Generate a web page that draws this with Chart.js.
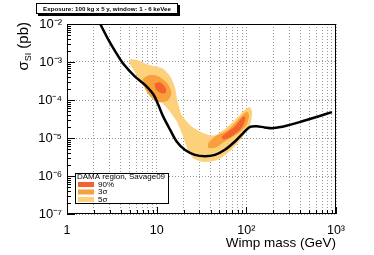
<!DOCTYPE html>
<html>
<head>
<meta charset="utf-8">
<script src="https://cdn.jsdelivr.net/npm/chart.js@4.4.0/dist/chart.umd.min.js"></script>
<style>
  body { margin: 0; background: #fff; }
  #wrap { width: 374px; height: 255px; }
</style>
</head>
<body>
<div id="wrap"><canvas id="chartDama"></canvas></div>
<script>
// limit curve, 100 kg x 5 y
var limitMass = [2.35, 2.9, 3.5, 4.2, 5.7, 7.4, 9.2, 10.4, 11.8, 14.1, 16.7, 20.6, 26.7, 34.5, 44.7, 57.6, 74.6, 92.3, 110, 130, 160, 200, 280, 430, 660, 900]
var limitSigma = [1.0e-2, 3.8e-3, 1.8e-3, 9.3e-4, 4.2e-4, 2.5e-4, 1.4e-4, 7.6e-5, 3.7e-5, 1.66e-5, 8.1e-6, 4.9e-6, 3.6e-6, 3.3e-6, 3.6e-6, 4.9e-6, 8.1e-6, 1.35e-5, 1.95e-5, 2.04e-5, 1.9e-5, 1.82e-5, 2.1e-5, 2.8e-5, 3.8e-5, 4.8e-5]

// DAMA contours (Savage09), outlines
var dama5Mass = [5.2, 6.5, 8.1, 11.4, 14.1, 16, 17.1, 19, 24.5, 34.5, 44.7, 62.8, 84.9, 107, 116, 110, 88.7, 68.5, 48.6, 34.5, 25.6, 21.6, 19, 16.7, 13.5, 11.4, 9.2, 7.2, 6.1, 5.2, 4.9, 5.2]
var dama5Sigma = [1.2e-3, 1.07e-3, 8.5e-4, 6.9e-4, 4.2e-4, 2.1e-4, 9.3e-5, 4.1e-5, 2.04e-5, 1.29e-5, 1.17e-5, 2.04e-5, 4.1e-5, 6.5e-5, 5.0e-5, 2.24e-5, 1.0e-5, 4.9e-6, 2.7e-6, 2.34e-6, 2.95e-6, 6.0e-6, 1.35e-5, 2.75e-5, 5.6e-5, 8.5e-5, 1.3e-4, 2.3e-4, 4.2e-4, 7.8e-4, 1.05e-3, 1.2e-3]

var dama3LowMass = [7.0, 8.2, 10.4, 13.2, 14.6, 13.2, 10.4, 8.6, 7.4, 7.0]
var dama3LowSigma = [3.6e-4, 4.5e-4, 4.2e-4, 2.7e-4, 1.5e-4, 9.5e-5, 8.8e-5, 1.2e-4, 2.0e-4, 3.6e-4]
var dama3HighMass = [37.6, 44.7, 62.8, 84.9, 101, 107, 101, 81.5, 57.6, 44.7, 37.6, 37.6]
var dama3HighSigma = [7.4e-6, 1.1e-5, 1.66e-5, 3.4e-5, 5.0e-5, 4.1e-5, 2.24e-5, 1.35e-5, 8.1e-6, 5.5e-6, 5.5e-6, 7.4e-6]

var dama90LowMass = [9.5, 10.9, 12.6, 12.6, 11.3, 9.8, 9.5]
var dama90LowSigma = [2.7e-4, 2.9e-4, 2.1e-4, 1.55e-4, 1.5e-4, 1.9e-4, 2.7e-4]
var dama90HighMass = [53, 74.6, 92.3, 98, 88.7, 68.5, 55, 53]
var dama90HighSigma = [1.1e-5, 2.04e-5, 3.7e-5, 3.4e-5, 1.82e-5, 1.1e-5, 9.1e-6, 1.1e-5]

// axes
var xTickValues = [1, 10, 100, 1000]
var xTickLabels = ['1', '10', '10\u00b2', '10\u00b3']
var yTickValues = [1e-7, 1e-6, 1e-5, 1e-4, 1e-3, 1e-2]
var yTickLabels = ['10\u207b\u2077', '10\u207b\u2076', '10\u207b\u2075', '10\u207b\u2074', '10\u207b\u00b3', '10\u207b\u00b2']

var legendHeader = 'DAMA region, Savage09'
var exposureText = 'Exposure: 100 kg x 5 y, window: 1 - 6 keVee'

var col90 = '#f4632d'
var col3 = '#f8a03c'
var col5 = '#fdd07c'

function pts(mx, sy) {
  return mx.map(function (m, i) { return { x: m, y: sy[i] } })
}

function region(label, mx, sy, color) {
  return {
    label: label,
    data: pts(mx, sy),
    showLine: true,
    fill: 'shape',
    backgroundColor: color,
    borderColor: 'transparent',
    borderWidth: 0,
    pointRadius: 0,
    tension: 0.25,
  }
}

// minor positions for grid / ticks
var xGrid = []
;[1, 10, 100].forEach(function (d) {
  for (var k = 1; k < 10; k++) xGrid.push(k * d)
})
xGrid.push(1000)

function labelFor(values, labels, v) {
  for (var i = 0; i < values.length; i++) {
    if (Math.abs(Math.log10(v) - Math.log10(values[i])) < 1e-6) return labels[i]
  }
  return ''
}

var extras = {
  id: 'extras',
  afterDraw: function (chart) {
    var ctx = chart.ctx
    var a = chart.chartArea
    var sx = chart.scales.x
    var sy = chart.scales.y
    ctx.save()
    ctx.strokeStyle = '#000'
    ctx.lineWidth = 1

    // inner ticks
    ctx.beginPath()
    xGrid.forEach(function (v) {
      var px = Math.round(sx.getPixelForValue(v)) + 0.5
      var len = xTickValues.indexOf(v) >= 0 ? 7 : 4
      ctx.moveTo(px, a.bottom)
      ctx.lineTo(px, a.bottom - len)
    })
    for (var e = -7; e < -2; e++) {
      for (var k = 1; k < 10; k++) {
        var py = Math.round(sy.getPixelForValue(k * Math.pow(10, e))) + 0.5
        ctx.moveTo(a.left, py)
        ctx.lineTo(a.left + (k == 1 ? 8 : 4), py)
      }
    }
    ctx.stroke()

    // frame
    ctx.strokeRect(a.left + 0.5, a.top + 0.5, a.right - a.left - 1, a.bottom - a.top - 1)

    // legend
    var lx = 75, ly = 173, lw = 93, lh = 30
    ctx.fillStyle = '#fff'
    ctx.fillRect(lx, ly, lw, lh)
    ctx.strokeRect(lx + 0.5, ly + 0.5, lw, lh)
    ctx.fillStyle = '#000'
    ctx.font = '8px "Liberation Sans", Arial, sans-serif'
    ctx.textBaseline = 'middle'
    ctx.textAlign = 'left'
    ctx.fillText(legendHeader, 77, 177)
    var items = [chart.data.datasets[1], chart.data.datasets[3], chart.data.datasets[5]]
    items.forEach(function (ds, i) {
      var cy = 184.5 + i * 7.5
      ctx.fillStyle = ds.backgroundColor
      ctx.fillRect(78, cy - 2.5, 16, 5)
      ctx.fillStyle = '#000'
      ctx.fillText(ds.label, 98, cy)
    })

    // exposure box
    ctx.fillStyle = '#000'
    ctx.fillRect(38, 5, 142, 11)
    ctx.fillStyle = '#fff'
    ctx.fillRect(36, 3, 142, 11)
    ctx.strokeRect(36.5, 3.5, 141, 10)
    ctx.fillStyle = '#000'
    ctx.font = 'bold 10px "Liberation Sans", Arial, sans-serif'
    var fs = 10 * 128 / ctx.measureText(exposureText).width
    ctx.font = 'bold ' + fs.toFixed(2) + 'px "Liberation Sans", Arial, sans-serif'
    ctx.textAlign = 'center'
    ctx.fillText(exposureText, 107, 9)

    // y title: sigma_SI (pb)
    ctx.translate(28, 22)
    ctx.rotate(-Math.PI / 2)
    ctx.textAlign = 'left'
    ctx.textBaseline = 'alphabetic'
    var big = '15px "Liberation Sans", Arial, sans-serif'
    var small = '9px "Liberation Sans", Arial, sans-serif'
    ctx.font = big
    var w1 = ctx.measureText('\u03c3').width
    var w3 = ctx.measureText(' (pb)').width
    ctx.font = small
    var w2 = ctx.measureText('SI').width
    var x0 = -(w1 + w2 + w3)
    ctx.font = big
    ctx.fillText('\u03c3', x0, 0)
    ctx.font = small
    ctx.fillText('SI', x0 + w1, 3)
    ctx.font = big
    ctx.fillText(' (pb)', x0 + w1 + w2, 0)
    ctx.restore()
  },
}

var ctxDama = document.getElementById('chartDama').getContext('2d')

var chart = new Chart(ctxDama, {
  type: 'scatter',
  data: {
    datasets: [
      {
        label: 'limit',
        data: pts(limitMass, limitSigma),
        showLine: true,
        fill: false,
        borderColor: '#000',
        borderWidth: 2.5,
        pointRadius: 0,
        tension: 0.3,
      },
      region('90%', dama90LowMass, dama90LowSigma, col90),
      region('90%', dama90HighMass, dama90HighSigma, col90),
      region('3\u03c3', dama3LowMass, dama3LowSigma, col3),
      region('3\u03c3', dama3HighMass, dama3HighSigma, col3),
      region('5\u03c3', dama5Mass, dama5Sigma, col5),
    ],
  },
  options: {
    responsive: true,
    maintainAspectRatio: false,
    devicePixelRatio: 1,
    animation: false,
    layout: { padding: { left: 0, right: 38, top: 24, bottom: 0 } },
    plugins: {
      legend: { display: false },
      tooltip: { enabled: false },
    },
    scales: {
      x: {
        type: 'logarithmic',
        min: 1,
        max: 1000,
        afterBuildTicks: function (scale) {
          scale.ticks = xGrid.map(function (v) { return { value: v } })
        },
        afterFit: function (scale) { scale.height = 41 },
        ticks: {
          autoSkip: false,
          maxRotation: 0,
          padding: 9,
          color: '#000',
          font: { family: '"Liberation Sans", Arial, sans-serif', size: 12.5 },
          callback: function (v) { return labelFor(xTickValues, xTickLabels, v) },
        },
        grid: { color: 'rgba(0,0,0,0.4)', drawTicks: false, lineWidth: 1 },
        border: { display: false, dash: [1, 2] },
        title: {
          display: true,
          text: 'Wimp mass (GeV)',
          align: 'end',
          color: '#000',
          padding: { top: 0, bottom: 4 },
          font: { family: '"Liberation Sans", Arial, sans-serif', size: 13.5 },
        },
      },
      y: {
        type: 'logarithmic',
        min: 1e-7,
        max: 1e-2,
        afterBuildTicks: function (scale) {
          scale.ticks = yTickValues.map(function (v) { return { value: v } })
        },
        afterFit: function (scale) { scale.width = 67 },
        ticks: {
          autoSkip: false,
          padding: 5,
          color: '#000',
          font: { family: '"Liberation Sans", Arial, sans-serif', size: 13 },
          callback: function (v) { return labelFor(yTickValues, yTickLabels, v) },
        },
        grid: { color: 'rgba(0,0,0,0.4)', drawTicks: false, lineWidth: 1 },
        border: { display: false, dash: [1, 2] },
      },
    },
  },
  plugins: [extras],
})
</script>
</body>
</html>
